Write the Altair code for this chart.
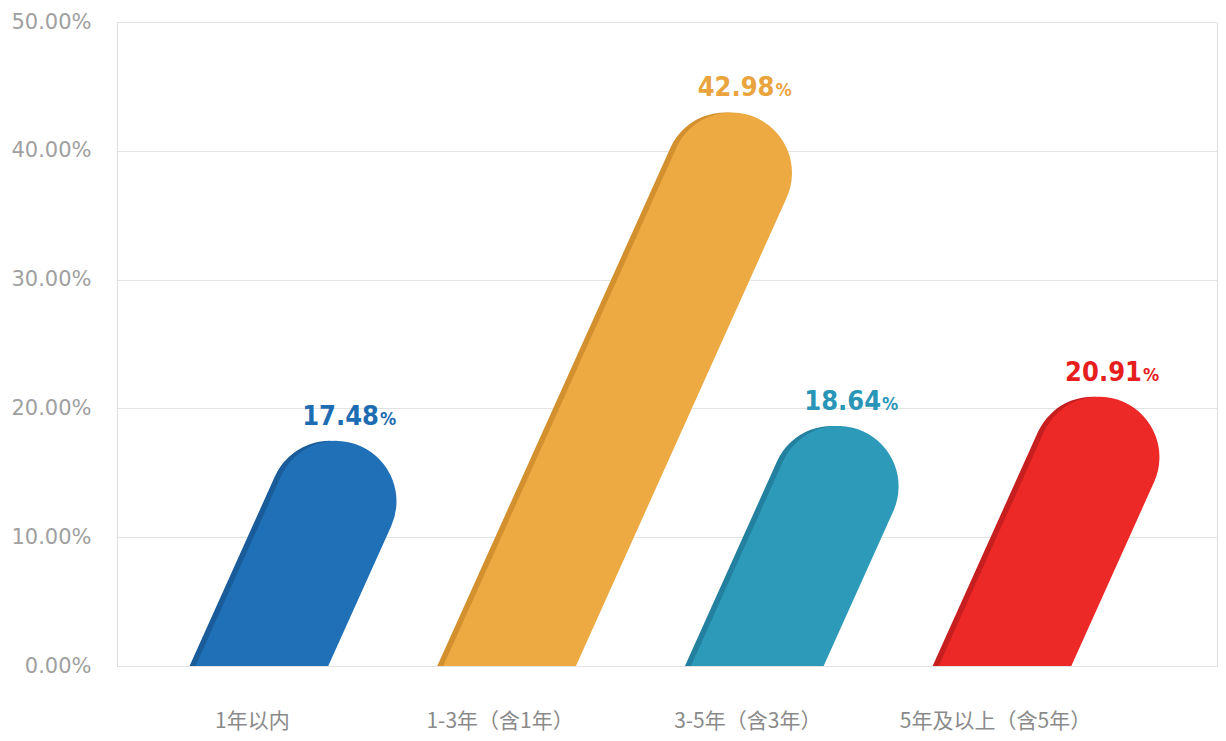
import altair as alt
import pandas as pd

# ---- data ----
categories = ["1年以内", "1-3年（含1年）", "3-5年（含3年）", "5年及以上（含5年）"]
values = [17.48, 42.98, 18.64, 20.91]
colors = ["#1F70B6", "#EDA942", "#2D9ABA", "#EC2926"]
dark_colors = ["#1A5C9A", "#D3902F", "#23809F", "#C71F1F"]
label_colors = ["#1E6DB3", "#E9A43E", "#2A96B7", "#E61F1E"]
y_ticks = [0, 10, 20, 30, 40, 50]

# ---- style constants ----
PLOT_W, PLOT_H = 1100, 644
STROKE = 121                      # bar thickness (px)
PX_PER_PCT = PLOT_H / 50.0        # y scale px per percent
CAP_R = (STROKE / 2) / PX_PER_PCT  # cap radius in data units
X_MIN, X_MAX = -0.585, 3.856
PX_PER_UNIT = PLOT_W / (X_MAX - X_MIN)
SLANT = 0.45 * PX_PER_PCT / PX_PER_UNIT  # horizontal shift per percent

NUM_FONT = "DejaVu Sans Condensed, Roboto Condensed, Roboto, sans-serif"

df = pd.DataFrame({
    "cat": categories,
    "idx": list(range(len(categories))),
    "value": values,
    "color": colors,
    "dark": dark_colors,
    "lcolor": label_colors,
})

# bar runs from below the baseline (clipped flat at 0) up to the cap centre
base = alt.Chart(df).transform_calculate(
    ystart=f"-{CAP_R}",
    yend=f"datum.value - {CAP_R}",
).transform_calculate(
    xstart=f"datum.idx + {SLANT} * datum.ystart",
    xend=f"datum.idx + {SLANT} * datum.yend",
)

label_expr = "[" + ",".join(f"'{c}'" for c in categories) + "][datum.value]"

x_scale = alt.Scale(domain=[X_MIN, X_MAX], nice=False, zero=False)
y_scale = alt.Scale(domain=[0, 50], nice=False)

x_axis = alt.Axis(
    values=list(range(len(categories))), labelExpr=label_expr, title=None,
    grid=False, ticks=False, domain=False, labelPadding=44, labelOffset=-10,
    labelFont="Noto Sans CJK SC", labelFontSize=21, labelColor="#8a8a8a",
    labelFlush=False, labelLimit=0, labelOverlap=False,
)
y_axis = alt.Axis(
    values=y_ticks, labelExpr="format(datum.value, '.2f') + '%'", title=None,
    ticks=False, domain=True, domainColor="#dedede", gridColor="#e3e3e3",
    labelPadding=26, labelFont="DejaVu Sans", labelFontSize=21, labelColor="#a0a0a0",
)

shadow = base.mark_rule(strokeWidth=STROKE, strokeCap="round", clip=True,
                        xOffset=-6, x2Offset=-6).encode(
    x=alt.X("xstart:Q", scale=x_scale, axis=x_axis),
    y=alt.Y("ystart:Q", scale=y_scale, axis=y_axis),
    x2="xend:Q",
    y2="yend:Q",
    color=alt.Color("dark:N", scale=None),
)

bars = base.mark_rule(strokeWidth=STROKE, strokeCap="round", clip=True).encode(
    x=alt.X("xstart:Q", scale=x_scale, axis=x_axis),
    y=alt.Y("ystart:Q", scale=y_scale, axis=y_axis),
    x2="xend:Q",
    y2="yend:Q",
    color=alt.Color("color:N", scale=None),
)

num_text = base.mark_text(
    align="right", baseline="alphabetic", dx=43, dy=-16,
    font=NUM_FONT, fontWeight="bold", fontSize=27,
).encode(
    x="xend:Q",
    y="value:Q",
    text=alt.Text("value:Q", format=".2f"),
    color=alt.Color("lcolor:N", scale=None),
)

pct_text = base.mark_text(
    align="left", baseline="alphabetic", dx=44, dy=-16,
    font=NUM_FONT, fontWeight="bold", fontSize=18,
).encode(
    x="xend:Q",
    y="value:Q",
    text=alt.value("%"),
    color=alt.Color("lcolor:N", scale=None),
)

chart = alt.layer(shadow, bars, num_text, pct_text).properties(
    width=PLOT_W, height=PLOT_H,
    autosize=alt.AutoSizeParams(type="none"),
    padding={"left": 109, "top": 14, "right": 1, "bottom": 67},
).configure_view(stroke=None).configure(background="white")

chart.save("out.html", embed_options={"renderer": "svg", "actions": False})
